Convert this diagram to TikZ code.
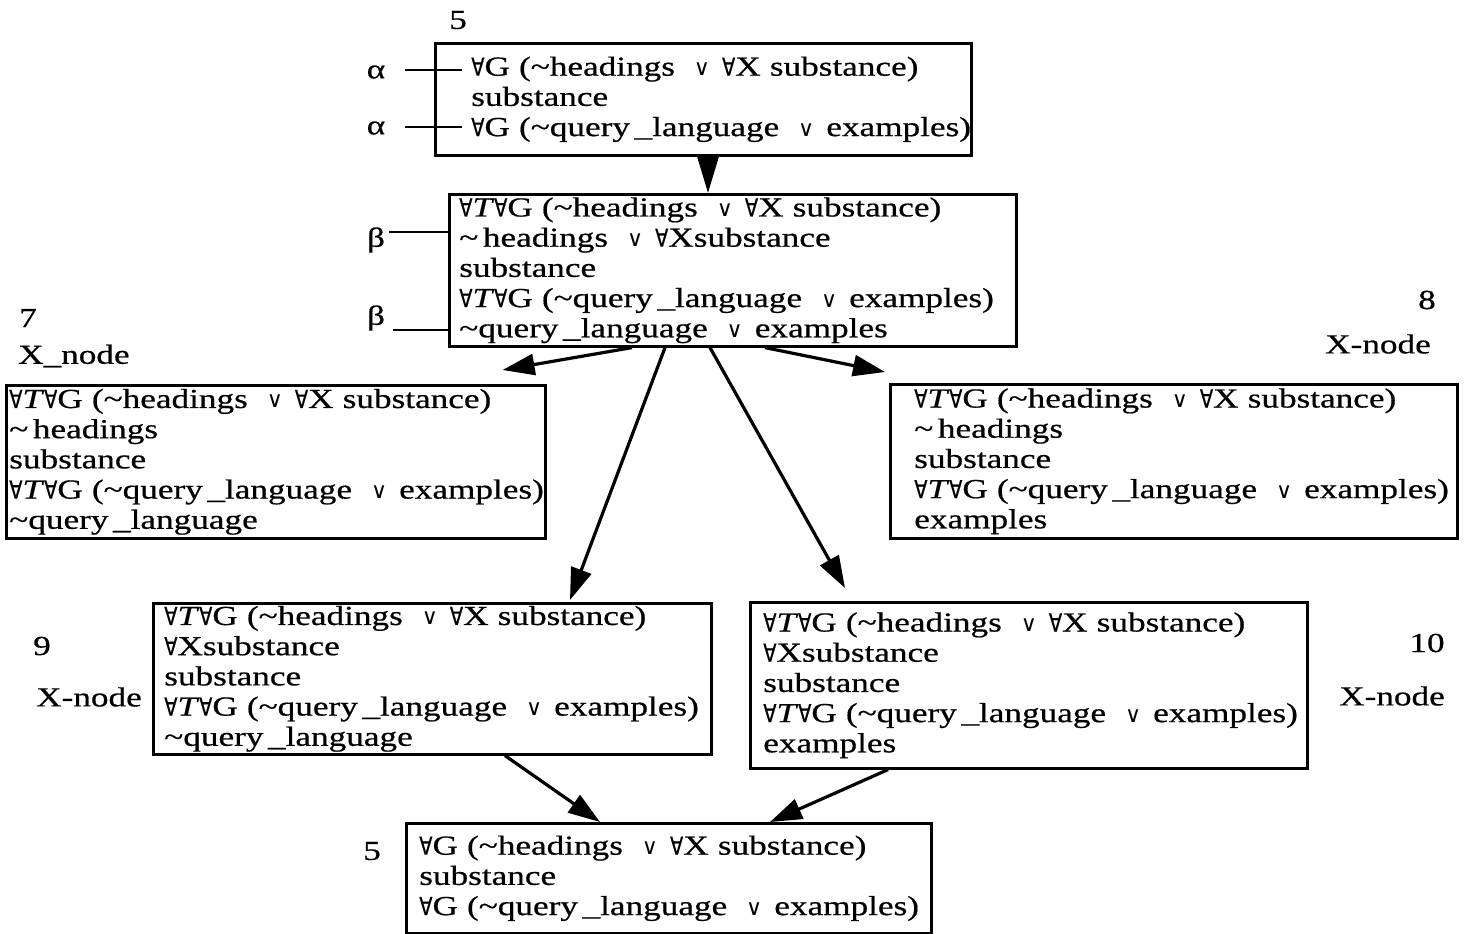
\documentclass[tikz,border=0pt]{standalone}
\usepackage{fontspec}
\setmainfont{Liberation Serif}[FakeStretch=1.28,FakeBold=0.6]
\newfontfamily\quantfont[Scale=0.9,FakeStretch=0.78,FakeBold=0.5]{DejaVu Sans}
\newfontfamily\orfont[Scale=0.8]{DejaVu Sans}
\usetikzlibrary{arrows.meta,calc}

% logical symbols used in the clause boxes
\newcommand{\AllQ}{{\quantfont ∀}}
\newcommand{\Orv}{\hspace{19pt}{\orfont ∨}\hspace{12pt}}
\newcommand{\Tl}{\textasciitilde}
\newcommand{\AllT}{\AllQ\textit{T}\AllQ}
\newcommand{\Ql}{query\,\_language}
\newcommand{\Ln}[1]{\mbox{#1}}
\newcommand{\bodyfont}{\fontsize{27.5}{30.2}\selectfont}

\begin{document}
\begin{tikzpicture}[x=1pt,y=-1pt,
  box/.style={draw, line width=2.6pt, anchor=north west, align=left,
              inner ysep=0pt, font=\bodyfont},
  lbl/.style={inner sep=0pt, font=\bodyfont},
  tick/.style={line width=2.4pt},
  arr/.style={line width=3.2pt, -{Triangle[length=32pt,width=21pt]}},
  bigarr/.style={line width=3pt, -{Triangle[length=38pt,width=22pt]}}]

\useasboundingbox (0,0) rectangle (1470,934);

% ---- clause boxes
\node[box, inner xsep=36pt, text width=464pt, minimum height=112pt] (A) at (434,42)
  {\Ln{\AllQ G (\Tl headings\Orv\AllQ X substance)}\\
   substance\\
   \Ln{\AllQ G (\Tl\Ql\Orv examples)}};

\node[box, inner xsep=10pt, text width=547pt, minimum height=152pt] (B) at (448,193)
  {\Ln{\AllT G (\Tl headings\Orv\AllQ X substance)}\\
   \Ln{\Tl\,headings\Orv\AllQ Xsubstance}\\
   substance\\
   \Ln{\AllT G (\Tl\Ql\Orv examples)}\\
   \Ln{\Tl\Ql\Orv examples}};

\node[box, inner xsep=3pt, text width=533pt, minimum height=153pt] (C) at (5,384)
  {\Ln{\AllT G (\Tl headings\Orv\AllQ X substance)}\\
   \Tl\,headings\\
   substance\\
   \Ln{\AllT G (\Tl\Ql\Orv examples)}\\
   \Ln{\Tl\Ql}};

\node[box, inner xsep=24pt, text width=519pt, minimum height=154pt] (D) at (889,383)
  {\Ln{\AllT G (\Tl headings\Orv\AllQ X substance)}\\
   \Tl\,headings\\
   substance\\
   \Ln{\AllT G (\Tl\Ql\Orv examples)}\\
   examples};

\node[box, inner xsep=11pt, text width=536pt, minimum height=151pt] (E) at (152,602)
  {\Ln{\AllT G (\Tl headings\Orv\AllQ X substance)}\\
   \AllQ Xsubstance\\
   substance\\
   \Ln{\AllT G (\Tl\Ql\Orv examples)}\\
   \Ln{\Tl\Ql}};

\node[box, inner xsep=13pt, text width=531pt, minimum height=166pt] (F) at (749,601)
  {\Ln{\AllT G (\Tl headings\Orv\AllQ X substance)}\\
   \AllQ Xsubstance\\
   substance\\
   \Ln{\AllT G (\Tl\Ql\Orv examples)}\\
   examples};

\node[box, inner xsep=13pt, text width=499pt, minimum height=110pt] (G) at (405,822)
  {\Ln{\AllQ G (\Tl headings\Orv\AllQ X substance)}\\
   substance\\
   \Ln{\AllQ G (\Tl\Ql\Orv examples)}};

% ---- numbers and node kinds
\node[lbl] (n5a) at (458,20) {5};
\node[lbl] (n7) at (28,318) {7};
\node[lbl, anchor=west] (k7) at (18,356) {X\_node};
\node[lbl] (n8) at (1427,300) {8};
\node[lbl] (k8) at (1378,344) {X-node};
\node[lbl] (n9) at (42,646) {9};
\node[lbl] (k9) at (89,697) {X-node};
\node[lbl] (n10) at (1427,643) {10};
\node[lbl] (k10) at (1392,696) {X-node};
\node[lbl] (n5b) at (372,851) {5};

% ---- alpha / beta markers
\node[lbl] (al1) at (376,72) {α};
\node[lbl] (al2) at (376,128) {α};
\node[lbl] (be1) at (376,240) {β};
\node[lbl] (be2) at (376,318) {β};
\coordinate (al1e) at (462,70);
\coordinate (al2e) at (462,127);
\draw[tick] ([xshift=20pt,yshift=2pt]al1.east) -- (al1e);
\draw[tick] ([xshift=20pt,yshift=1pt]al2.east) -- (al2e);
\draw[tick] ([xshift=4pt,yshift=8pt]be1.east) -- ([yshift=8pt]be1.east -| B.west);
\draw[tick] ([xshift=8pt,yshift=-12pt]be2.east) -- ([yshift=-12pt]be2.east -| B.west);

% ---- derivation arrows
\draw[bigarr] ([xshift=274pt]A.south west) -- ([xshift=260pt]B.north west);
\draw[arr] ([xshift=184pt]B.south west) -- ([xshift=-44pt,yshift=14pt]C.north east);
\draw[arr] ([xshift=217pt]B.south west) -- ([xshift=418pt,yshift=2pt]E.north west);
\draw[arr] ([xshift=262pt]B.south west) -- ([xshift=96pt,yshift=13pt]F.north west);
\draw[arr] ([xshift=317pt]B.south west) -- ([xshift=-4pt,yshift=11pt]D.north west);
\draw[arr] ([xshift=353pt]E.south west) -- ([xshift=195pt]G.north west);
\draw[arr] ([xshift=139pt]F.south west) -- ([xshift=365pt]G.north west);

\end{tikzpicture}
\end{document}
